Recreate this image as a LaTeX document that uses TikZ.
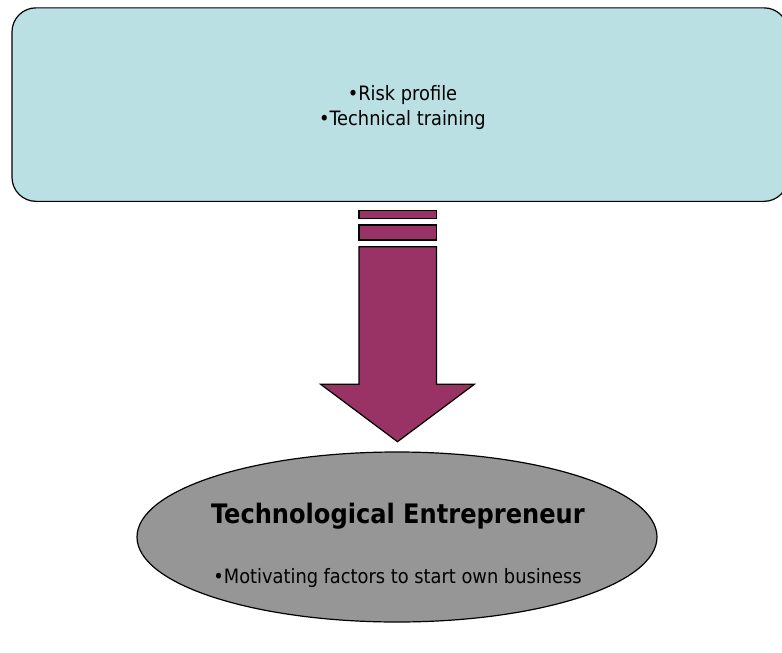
\documentclass[tikz,border=0pt]{standalone}
\usepackage{fontspec}
\setmainfont{DejaVu Sans Condensed}
\usetikzlibrary{shapes.geometric}
\definecolor{boxblue}{HTML}{BBE0E3}
\definecolor{arrowred}{HTML}{993366}
\definecolor{ellgray}{HTML}{969696}
\tikzset{
  topbox/.style={draw=black, line width=1.2pt, fill=boxblue, rounded corners=24pt,
    minimum width=776pt, minimum height=193.5pt, inner sep=0pt},
  entell/.style={ellipse, draw=black, line width=1.2pt, fill=ellgray,
    minimum width=520pt, minimum height=170pt, inner sep=0pt},
  bigarrow/.style={draw=black, line width=1.2pt, fill=arrowred, line join=miter},
  txt/.style={inner sep=0pt, anchor=base, font=\fontsize{19.8}{24}\selectfont, text=black},
  ttl/.style={inner sep=0pt, anchor=base, font=\fontsize{26.8}{32}\selectfont\bfseries, text=black}
}
\begin{document}
\begin{tikzpicture}[x=1pt, y=-1pt]
\useasboundingbox (0,0) rectangle (782,653);
\node[topbox] (top) at (400,104.6) {};
\node[txt] (t1) at (402.5,100.7) {•Risk profile};
\node[txt] (t2) at (402.5,125.7) {•Technical training};
\node[entell] (ent) at (397,537) {};
\node[ttl] (title) at (398,523.5) {Technological Entrepreneur};
\node[txt] (motiv) at (397.5,583) {•Motivating factors to start own business};
% arrow shape between the two nodes
\draw[bigarrow] (359,210.7) rectangle (436.5,218.3);
\draw[bigarrow] (359,225) rectangle (436.5,240);
\draw[bigarrow] (359,246.7) -- (436.5,246.7) -- (436.5,384.3) -- (474.3,384.3)
  -- (397.5,441.7) -- (320.7,384.3) -- (359,384.3) -- cycle;
\end{tikzpicture}
\end{document}
